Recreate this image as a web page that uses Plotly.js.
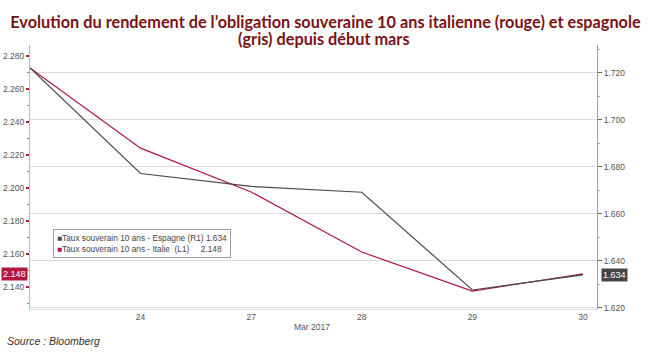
<!DOCTYPE html>
<html><head><meta charset="utf-8">
<script src="https://cdn.plot.ly/plotly-3.0.1.min.js"></script>
<style>html,body{margin:0;padding:0;background:#fff;}#chart{width:651px;height:354px;}</style>
</head><body><div id="chart"></div>
<script>
const categories = ["23", "24", "27", "28", "29", "30"];
const tickLabels = ["24", "27", "28", "29", "30"];
const italie = [2.2727, 2.2242, 2.1976, 2.1612, 2.1376, 2.148];
const espagne = [1.7221, 1.6772, 1.6717, 1.6692, 1.6276, 1.634];
const nameEspagne = "Taux souverain 10 ans - Espagne (R1)";
const nameItalie = "Taux souverain 10 ans - Italie  (L1)";
const axisLabel = "Mar 2017";
const titleLine1 = "Evolution du rendement de l\u2019obligation souveraine 10 ans italienne (rouge) et espagnole";
const titleLine2 = "(gris) depuis début mars";
const sourceText = "Source : Bloomberg";

const RED = "#b3173c", GRAY = "#4a4a4a", TITLE = "#7a1216";
const lastIt = italie[italie.length - 1], lastEs = espagne[espagne.length - 1];
const nb = s => s.replace(/ /g, "\u00a0");
const titleFont = {family: "Lato, sans-serif", size: 16.3, color: TITLE, weight: "bold"};

const traces = [
  {x: categories, y: espagne, yaxis: "y2", type: "scatter", mode: "lines",
   line: {color: GRAY, width: 1.2}, name: nameEspagne, showlegend: false},
  {x: categories, y: italie, yaxis: "y", type: "scatter", mode: "lines",
   line: {color: RED, width: 1.2}, name: nameItalie, showlegend: false}
];

const legendText =
  "<span style='color:" + GRAY + "'>\u25A0</span>" + nb(nameEspagne + " " + lastEs.toFixed(3)) + "<br>" +
  "<span style='color:" + RED + "'>\u25A0</span>" + nb(nameItalie + "     " + lastIt.toFixed(3));

const layout = {
  width: 651, height: 354,
  margin: {l: 30, r: 54, t: 45, b: 45},
  paper_bgcolor: "#fff", plot_bgcolor: "#fff",
  font: {family: "Liberation Sans, Arial, sans-serif", size: 9, color: "#555"},
  title: {text: titleLine1, x: 0.5, xref: "container", xanchor: "center",
          y: 0.938, yref: "container", yanchor: "middle", font: titleFont},
  showlegend: false,
  xaxis: {type: "category", range: [0, 5.127], showgrid: false, zeroline: false,
          showline: true, linecolor: "#d8d8d8", tickvals: tickLabels, ticktext: tickLabels,
          ticks: "", tickfont: {size: 8.5, color: "#555"}, fixedrange: true},
  yaxis: {range: [2.1267, 2.2867], tick0: 2.14, dtick: 0.02, tickformat: ".3f",
          showgrid: false, zeroline: false, showline: true, linecolor: "#e6a3b3",
          ticks: "outside", ticklen: 3, tickwidth: 1.5, tickcolor: RED,
          minor: {ticks: "outside", ticklen: 2, dtick: 0.01, tickcolor: "#d86f88", showgrid: false},
          tickfont: {size: 8.5, color: "#555"}},
  yaxis2: {overlaying: "y", side: "right", range: [1.6195, 1.7319], tick0: 1.62, dtick: 0.02,
           tickformat: ".3f", showgrid: true, gridcolor: "#dcdcdc", gridwidth: 1,
           zeroline: false, showline: true, linecolor: "#a0a0a0",
           ticks: "outside", ticklen: 4, tickcolor: "#666",
           minor: {ticks: "outside", ticklen: 2, dtick: 0.01, tickcolor: "#aaa", showgrid: false},
           tickfont: {size: 8.5, color: "#555"}},
  annotations: [
    {text: titleLine2, xref: "paper", yref: "paper", x: 0.5185, y: 1.0265,
     xanchor: "center", yanchor: "middle", showarrow: false, font: titleFont},
    {text: legendText, xref: "paper", yref: "paper", x: 0.0406, y: 0.303,
     xanchor: "left", yanchor: "top", align: "left", showarrow: false,
     bordercolor: "#9a9a9a", borderwidth: 1, borderpad: 3, bgcolor: "#fff",
     font: {size: 8.3, color: "#444"}},
    {text: lastIt.toFixed(3), xref: "paper", yref: "y", x: 0, y: lastIt,
     xanchor: "right", yanchor: "middle", xshift: -2, showarrow: false,
     bgcolor: RED, borderpad: 1, font: {size: 9, color: "#fff"}},
    {text: lastEs.toFixed(3), xref: "paper", yref: "y2", x: 1, y: lastEs,
     xanchor: "left", yanchor: "middle", xshift: 4, showarrow: false,
     bgcolor: "#444", borderpad: 1, font: {size: 9, color: "#fff"}},
    {text: axisLabel, xref: "paper", yref: "paper", x: 0.497, y: -0.068,
     xanchor: "center", yanchor: "middle", showarrow: false, font: {size: 8.5, color: "#555"}},
    {text: sourceText, xref: "paper", yref: "paper", x: -0.044, y: -0.121,
     xanchor: "left", yanchor: "middle", showarrow: false,
     font: {size: 10.5, color: "#333", style: "italic"}}
  ]
};

Plotly.newPlot("chart", traces, layout, {displayModeBar: false, staticPlot: true});
</script></body></html>
